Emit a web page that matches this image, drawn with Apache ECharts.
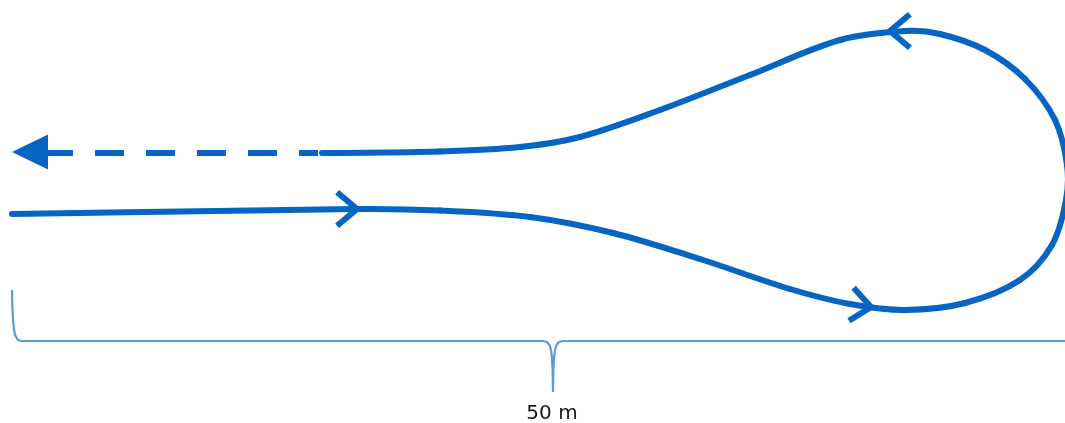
<!DOCTYPE html>
<html><head><meta charset="utf-8">
<script src="https://cdn.jsdelivr.net/npm/echarts/dist/echarts.min.js"></script>
<style>html,body{margin:0;padding:0;background:#fff}#c{width:1065px;height:423px}</style>
</head><body><div id="c"></div>
<script>
// Track of the loop (x in px-units, y downward)
const pathSolid = [[12,214],[357,209],[440,210.5],[530,217],[613,233],[700,259],[790,289],[850,304],[905,310],[965,303],[1020,280],[1052,245],[1066,200],[1067,165],[1055,120],[1025,79],[985,50],[940,34],[905,31],[840,40],[750,75],[660,110],[580,137],[520,147],[440,151.5],[330,153],[322,153]];
const pathDashed = [[44,153],[318,153]];
// open chevrons: tip x, tip y, direction (deg, 0 = right, y down)
const chevrons = [[357,209,0],[871,307,8],[890,31,180]];
// filled arrow tips
const arrowTips = [[12,152,180]];
// brace
const bracePts = [[12,290],[12.3,305],[13,320],[14,330],[15.5,336],[18,340],[21,341],[543,341],[547,342],[549.5,345],[551,350],[552,358],[552.6,370],[553,392],[553.4,370],[554,358],[555,350],[556.5,345],[559,342],[563,341],[1065,341]];
const labels = [[552,414,'50 m']];

const BLUE = '#0664c2';

function smoothCurves(pts) {
  const n = pts.length;
  const d = (a, b) => Math.hypot(b[0] - a[0], b[1] - a[1]);
  const m = pts.map((p, i) => {
    const a = pts[Math.max(0, i - 1)], b = pts[Math.min(n - 1, i + 1)];
    const l = d(a, p) + d(p, b);
    return [(b[0] - a[0]) / l, (b[1] - a[1]) / l];
  });
  const out = [];
  for (let i = 0; i < n - 1; i++) {
    const p = pts[i], q = pts[i + 1], L = d(p, q) / 3;
    out.push({x1: p[0], y1: p[1], cpx1: p[0] + m[i][0] * L, cpy1: p[1] + m[i][1] * L,
      cpx2: q[0] - m[i + 1][0] * L, cpy2: q[1] - m[i + 1][1] * L, x2: q[0], y2: q[1]});
  }
  return out;
}

const chart = echarts.init(document.getElementById('c'));
chart.setOption({
  animation: false,
  grid: {left: 0, right: 0, top: 0, bottom: 0},
  xAxis: {type: 'value', min: 0, max: 1065, show: false},
  yAxis: {type: 'value', min: 0, max: 423, inverse: true, show: false},
  series: [
    {type: 'custom', data: [0], clip: true, renderItem: function (params, api) {
      const pts = pathSolid.map(p => api.coord(p));
      return {type: 'group', children: smoothCurves(pts).map(s => ({
        type: 'bezierCurve', shape: s,
        style: {stroke: BLUE, lineWidth: 6, fill: null, lineCap: 'round'}}))};
    }},
    {type: 'line', data: pathDashed, symbol: 'none',
     lineStyle: {color: BLUE, width: 6, type: [29, 22], cap: 'butt'}},
    {type: 'line', data: bracePts, symbol: 'none',
     lineStyle: {color: '#5b9bd5', width: 2.2}},
    {type: 'custom', data: chevrons, renderItem: function (params, api) {
      const tip = api.coord([api.value(0), api.value(1)]);
      const a = api.value(2) * Math.PI / 180;
      const L = 26, h = 40 * Math.PI / 180;
      const b = a + Math.PI;
      const p1 = [tip[0] + L * Math.cos(b + h), tip[1] + L * Math.sin(b + h)];
      const p2 = [tip[0] + L * Math.cos(b - h), tip[1] + L * Math.sin(b - h)];
      return {type: 'polyline', shape: {points: [p1, tip, p2]},
        style: {stroke: BLUE, lineWidth: 6, fill: null, lineJoin: 'miter', lineCap: 'butt'}};
    }},
    {type: 'custom', data: arrowTips, renderItem: function (params, api) {
      const tip = api.coord([api.value(0), api.value(1)]);
      const a = api.value(2) * Math.PI / 180;
      const len = 36, half = 17.5;
      const bx = tip[0] - len * Math.cos(a), by = tip[1] - len * Math.sin(a);
      const px = -Math.sin(a) * half, py = Math.cos(a) * half;
      return {type: 'polygon', shape: {points: [tip, [bx + px, by + py], [bx - px, by - py]]},
        style: {fill: BLUE}};
    }},
    {type: 'custom', data: labels, renderItem: function (params, api) {
      const p = api.coord([api.value(0), api.value(1)]);
      return {type: 'text', x: p[0], y: p[1],
        style: {text: labels[params.dataIndex][2], fill: '#1a1a1a', fontSize: 20,
          fontFamily: 'DejaVu Sans', align: 'center', verticalAlign: 'middle'}};
    }}
  ]
});
</script></body></html>
